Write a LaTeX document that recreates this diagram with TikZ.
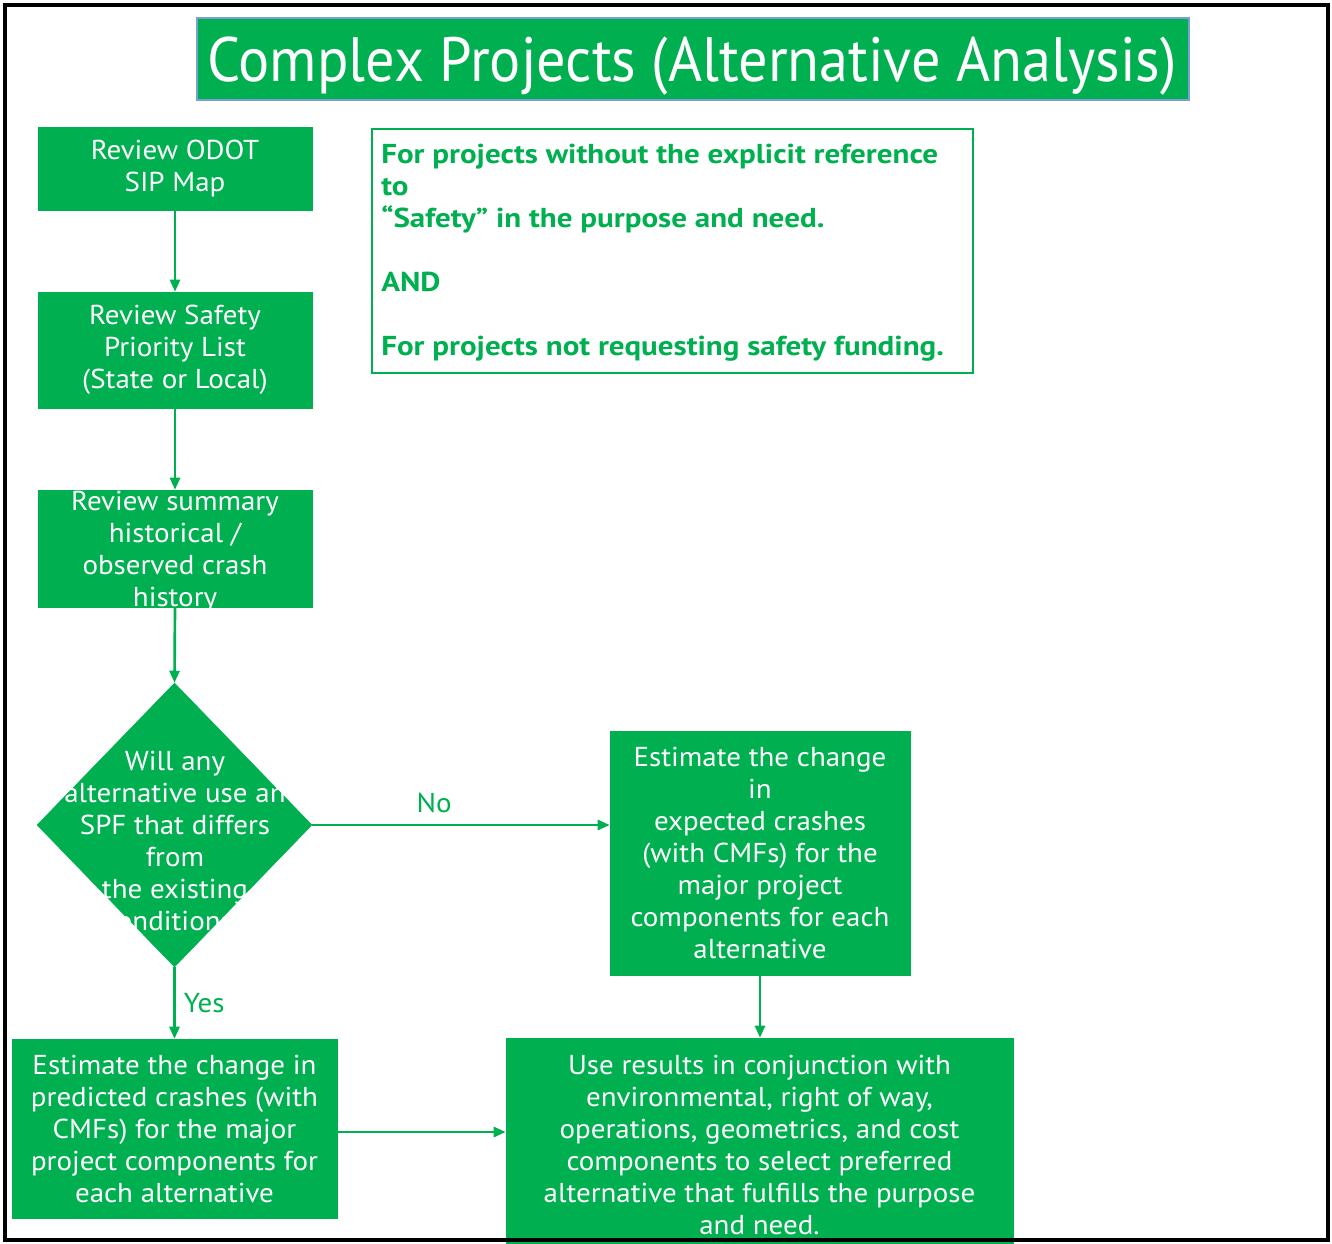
\documentclass[tikz,border=0pt]{standalone}
\usepackage{fontspec}
\setmainfont{PT Sans}[FakeStretch=1.06]
\newfontfamily\notefont{PT Sans}[FakeStretch=1.135,Ligatures=TeX]
\newfontfamily\titlefont{PT Sans}[FakeStretch=0.93]
\usetikzlibrary{shapes.geometric,arrows.meta}
\definecolor{ogreen}{RGB}{0,176,80}
\definecolor{tborder}{RGB}{120,160,215}
\tikzset{
  gbox/.style={draw=ogreen, fill=ogreen, inner sep=0pt, text=white, align=center, font=\fontsize{20.5}{24}\selectfont},
  btext/.style={text=white, align=center, inner sep=0pt, font=\fontsize{20.5}{24}\selectfont},
  conn/.style={draw=ogreen, line width=2pt, -{Triangle[length=9pt,width=7.5pt]}},
  lbl/.style={text=ogreen, font=\fontsize{20.5}{24}\selectfont, inner sep=0pt}
}
\begin{document}
\begin{tikzpicture}[x=0.75pt,y=-0.75pt]
\useasboundingbox (0,0) rectangle (1332,1243);
\clip (0,0) rectangle (1332,1243);
\fill[white] (0,0) rectangle (1332,1243);
% title
\node[draw=tborder, line width=1.2pt, fill=ogreen, minimum width=992*0.75pt, minimum height=82*0.75pt, inner sep=0pt] (title) at (693,59) {};
\node[text=white, anchor=base, inner sep=0pt, font=\titlefont\fontsize{47}{50}\selectfont] (titletext) at (692,81) {Complex Projects (Alternative Analysis)};
% note
\node[draw=ogreen, line width=1pt, minimum width=601*0.75pt, minimum height=244*0.75pt, inner sep=0pt] (notebox) at (672.5,251) {};
\node[text=ogreen, align=left, anchor=west, inner sep=0pt, font=\notefont\bfseries\fontsize{20.5}{24}\selectfont] (notetext) at (381,253) {For projects without the explicit reference\\to\\“Safety” in the purpose and need.\\[24pt]AND\\[24pt]For projects not requesting safety funding.};
% boxes
\node[gbox, minimum width=274*0.75pt, minimum height=83*0.75pt] (b1) at (175,168.5) {Review ODOT\\SIP Map};
\node[gbox, minimum width=274*0.75pt, minimum height=116*0.75pt] (b2) at (175,350) {Review Safety\\Priority List\\(State or Local)};
\node[gbox, minimum width=274*0.75pt, minimum height=117*0.75pt] (b3) at (175,548.5) {};
\node[btext] (b3t) at (175,552) {Review summary\\historical /\\observed crash\\history};
\node[diamond, draw=ogreen, fill=ogreen, minimum width=275*0.75pt, minimum height=284*0.75pt, inner sep=0pt] (dec) at (174.5,825) {};
\node[btext] (dect) at (175,841) {Will any\\alternative use an\\SPF that differs\\from\\the existing\\conditions?};
\node[gbox, minimum width=300*0.75pt, minimum height=244*0.75pt] (exp) at (760,853) {Estimate the change\\in\\expected crashes\\(with CMFs) for the\\major project\\components for each\\alternative};
\node[gbox, minimum width=325*0.75pt, minimum height=179*0.75pt] (pred) at (174.5,1128.5) {Estimate the change in\\predicted crashes (with\\CMFs) for the major\\project components for\\each alternative};
\node[gbox, minimum width=507*0.75pt, minimum height=213*0.75pt] (use) at (759.5,1144.5) {Use results in conjunction with\\environmental, right of way,\\operations, geometrics, and cost\\components to select preferred\\alternative that fulfills the purpose\\and need.};
% connectors
\draw[conn] (b1.south) -- (b2.north);
\draw[conn] (b2.south) -- (b3.north);
\draw[conn] (b3.south) -- (dec.north);
\draw[conn] (dec.east) -- (dec.east -| exp.west) node[lbl, pos=0.41, above=8pt] (nolbl) {No};
\draw[conn] (dec.south) -- (pred.north) node[lbl, midway, right=6pt] (yeslbl) {Yes};
\draw[conn] (exp.south) -- (exp.south |- use.north);
\draw[conn] (pred.east |- 0,1132) -- (use.west |- 0,1132);
% frame
\draw[line width=3pt] (5,5) rectangle (1328,1240);
\end{tikzpicture}
\end{document}
